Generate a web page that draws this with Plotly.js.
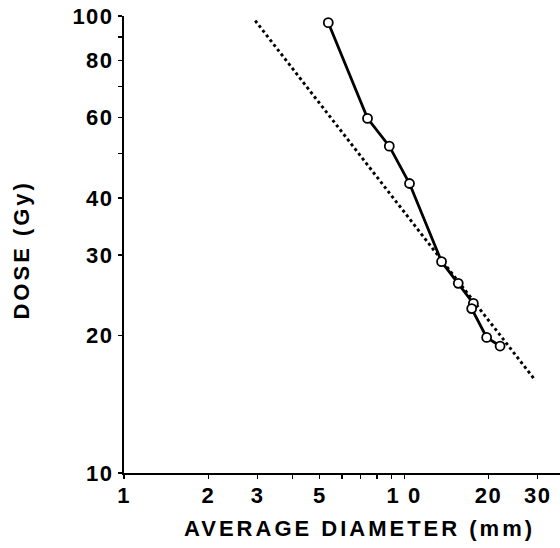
<!DOCTYPE html>
<html>
<head>
<meta charset="utf-8">
<script src="https://cdn.plot.ly/plotly-3.0.1.min.js"></script>
<style>
  html, body { margin: 0; padding: 0; background: #fff; }
  #chart { width: 560px; height: 548px; }
  .xtick text, .ytick text { letter-spacing: 1.5px; }
  .annotation-text { letter-spacing: 3px; }
</style>
</head>
<body>
<div id="chart"></div>
<script>
// Measured data (log-log)
const diameter = [5.36, 7.40, 8.85, 10.45, 13.6, 15.6, 17.66, 17.42, 19.7, 22.0];
const dose     = [96.7, 59.7, 51.9, 43.0, 29.0, 26.0, 23.5, 22.9, 19.8, 18.96];

// Dotted fitted line endpoints
const fitDiameter = [2.94, 29.4];
const fitDose     = [97.7, 15.94];

// Tick labels
const xTickVals = [1, 2, 3, 5, 10, 20, 30];
const xTickText = ['1', '2', '3', '5', '1 0', '20', '30'];
const xMinorVals = [4, 6, 7, 8, 9];
const yTickVals = [10, 20, 30, 40, 60, 80, 100];
const yTickText = ['10', '20', '30', '40', '60', '80', '100'];
const yMinorVals = [50, 70, 90];

const xTitle = 'AVERAGE DIAMETER (mm)';
const yTitle = 'DOSE (Gy)';

const font = { family: 'Liberation Sans, Arial, sans-serif', size: 22, color: '#000', weight: 'bold' };

const traces = [
  {
    x: fitDiameter, y: fitDose, mode: 'lines', type: 'scatter',
    line: { color: '#000', width: 2.9, dash: 'dot' },
    hoverinfo: 'skip', showlegend: false
  },
  {
    x: diameter, y: dose, mode: 'lines+markers', type: 'scatter',
    line: { color: '#000', width: 2.8 },
    marker: { symbol: 'circle', size: 9, color: '#fff', line: { color: '#000', width: 1.8 } },
    showlegend: false
  }
];

const layout = {
  width: 560, height: 548,
  margin: { l: 124, r: 0, t: 16, b: 75, pad: 0 },
  paper_bgcolor: '#fff', plot_bgcolor: '#fff',
  showlegend: false,
  font: font,
  xaxis: {
    type: 'log', range: [0, Math.log10(36)],
    showgrid: false, zeroline: false,
    showline: true, linecolor: '#000', linewidth: 2,
    ticks: 'outside', ticklen: 4, tickwidth: 1.3, tickcolor: '#000',
    tickmode: 'array', tickvals: xTickVals, ticktext: xTickText,
    tickfont: font, ticklabelstandoff: -2,
    minor: { tickvals: xMinorVals, ticks: 'outside', ticklen: 4, tickwidth: 1.2, tickcolor: '#000', showgrid: false },
    fixedrange: true
  },
  yaxis: {
    type: 'log', range: [1, 2],
    showgrid: false, zeroline: false,
    showline: true, linecolor: '#000', linewidth: 2,
    ticks: 'outside', ticklen: 4, tickwidth: 1.3, tickcolor: '#000',
    tickmode: 'array', tickvals: yTickVals, ticktext: yTickText,
    tickfont: font,
    minor: { tickvals: yMinorVals, ticks: 'outside', ticklen: 4, tickwidth: 1.2, tickcolor: '#000', showgrid: false },
    fixedrange: true
  },
  annotations: [
    {
      text: xTitle, xref: 'paper', yref: 'paper',
      x: 0.541, y: -0.1225, xanchor: 'center', yanchor: 'middle',
      showarrow: false, font: font
    },
    {
      text: yTitle, xref: 'paper', yref: 'paper',
      x: -0.236, y: 0.487, xanchor: 'center', yanchor: 'middle',
      textangle: -90, showarrow: false, font: font
    }
  ]
};

Plotly.newPlot('chart', traces, layout, { staticPlot: true, displayModeBar: false });
</script>
</body>
</html>
